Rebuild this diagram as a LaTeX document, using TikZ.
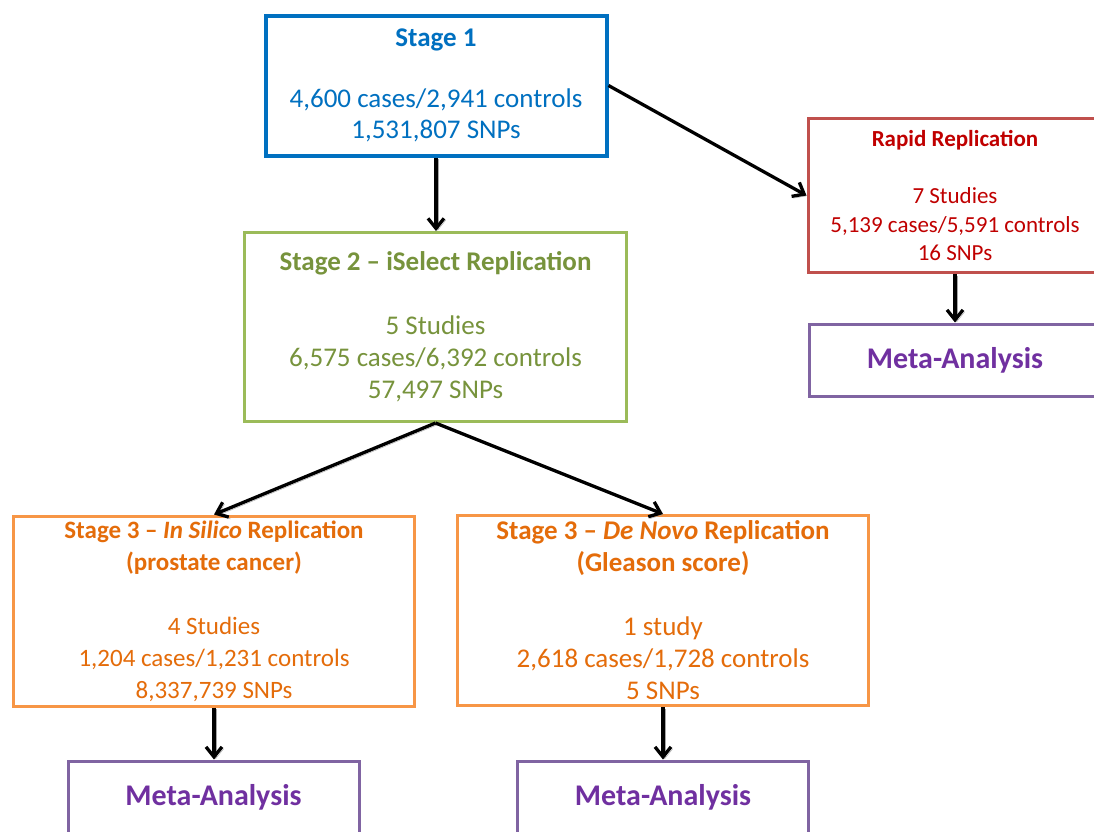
\documentclass[tikz,border=0pt]{standalone}
\usepackage{fontspec}
\setmainfont{Carlito}
\usetikzlibrary{positioning,arrows.meta}

\definecolor{stgblue}{HTML}{0070C0}
\definecolor{repgreen}{HTML}{9BBB59}
\definecolor{repgreentxt}{HTML}{77933C}
\definecolor{rapidred}{HTML}{C0504D}
\definecolor{rapidredtxt}{HTML}{C00000}
\definecolor{s3orange}{HTML}{F79646}
\definecolor{s3orangetxt}{HTML}{E46C0A}
\definecolor{metapurple}{HTML}{8064A2}
\definecolor{metapurpletxt}{HTML}{7030A0}

\begin{document}
\begin{tikzpicture}[
    x=1pt, y=-1pt,
    every node/.style={draw, rectangle, line width=3pt, inner sep=0pt, align=center, fill=white},
    stage1/.style={draw=stgblue, text=stgblue, line width=4pt, minimum width=341pt, minimum height=140pt, font=\fontsize{27}{30.5}\selectfont},
    stage2/.style={draw=repgreen, text=repgreentxt, minimum width=382pt, minimum height=189pt, font=\fontsize{27}{32}\selectfont},
    rapid/.style={draw=rapidred, text=rapidredtxt, minimum width=294pt, minimum height=154pt, font=\fontsize{23}{28.5}\selectfont},
    stage3/.style={draw=s3orange, text=s3orangetxt, minimum height=190pt, font=\fontsize{27}{32}\selectfont},
    meta/.style={draw=metapurple, text=metapurpletxt, minimum width=291pt, minimum height=72pt, font=\fontsize{30}{36}\selectfont\bfseries},
    flow/.style={draw=black, line width=3.3pt, -{Straight Barb[length=10pt,width=16pt]},
        preaction={draw=black!35, transform canvas={shift={(1.8pt,-1.8pt)}}}}
]

\useasboundingbox (0,0) rectangle (1094,831);
\clip (0,0) rectangle (1094,831);

% stages
\node[stage1] (s1) at (436,85.5) {\textbf{Stage 1}\\[30.5pt]4,600 cases/2,941 controls\\1,531,807 SNPs};
\node[stage2] (s2) at (435.5,327) {\textbf{Stage 2 – iSelect Replication}\\[32pt]5 Studies\\6,575 cases/6,392 controls\\57,497 SNPs};
\node[rapid] (rr) at (955,195.5) {\textbf{Rapid Replication}\\[28.5pt]7 Studies\\5,139 cases/5,591 controls\\16 SNPs};
\node[stage3, minimum width=401pt, font=\fontsize{25}{32}\selectfont] (silico) at (214,611)
    {\textbf{Stage 3 – \textit{In Silico} Replication}\\\textbf{(prostate cancer)}\\[32pt]4 Studies\\1,204 cases/1,231 controls\\8,337,739 SNPs};
\node[stage3, minimum width=411pt] (novo) at (663,610.5)
    {\textbf{Stage 3 – \textit{De Novo} Replication}\\\textbf{(Gleason score)}\\[32pt]1 study\\2,618 cases/1,728 controls\\5 SNPs};

% meta-analyses
\node[meta] (metarr) at (955,360) {Meta-Analysis};
\node[meta] (metasilico) at (213.5,797) {Meta-Analysis};
\node[meta] (metanovo) at (663,797) {Meta-Analysis};

% arrows
\draw[flow] (s1.south) -- (s1.south |- s2.north);
\draw[flow] (s1.east) -- (rr.west);
\draw[flow] (s2.south) -- (silico.north);
\draw[flow] (s2.south) -- (novo.north);
\draw[flow] (rr.south) -- (metarr.north);
\draw[flow] (silico.south) -- (silico.south |- metasilico.north);
\draw[flow] (novo.south) -- (novo.south |- metanovo.north);

\end{tikzpicture}
\end{document}
